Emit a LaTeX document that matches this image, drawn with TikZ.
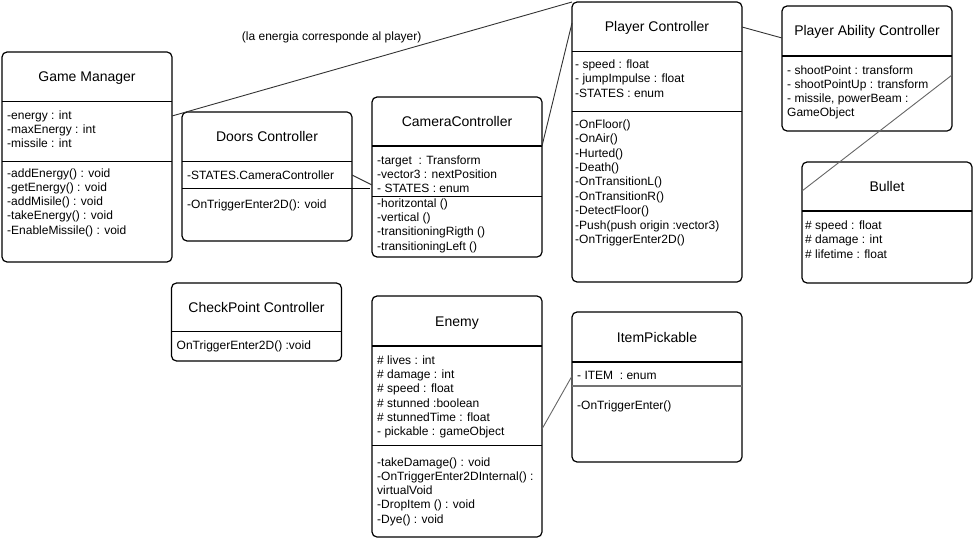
\documentclass[tikz,border=0pt]{standalone}
\usepackage{fontspec}
\setmainfont{Liberation Sans}
\usetikzlibrary{calc}
\tikzset{
  cls/.style={draw=black, line width=1.2pt, rounded corners=5pt, anchor=north west, inner sep=0pt, outer sep=0pt},
  ttl/.style={inner sep=0pt, font=\fontsize{14}{16}\selectfont, text height=10pt, text depth=0pt},
  ln/.style={inner sep=0pt, anchor=west, font=\fontsize{12}{14}\selectfont, text height=8.6pt, text depth=0pt},
  sepl/.style={line width=1.2pt},
  conn/.style={draw=black!80, line width=0.9pt},
  conng/.style={draw=black!60, line width=0.9pt},
}
\newcommand\cllines[5]{%
  \foreach \t [count=\i from 0] in {#5} \node[ln] (#1\i) at (#2,{#3+#4*\i}) {\t};}
\begin{document}
\begin{tikzpicture}[x=1pt,y=-1pt]
\useasboundingbox (0,0) rectangle (973,540);
% Game Manager
\node[cls, minimum width=170pt, minimum height=210pt] (gm) at (2,52) {};
\node[ttl] (gmT) at (87,77) {Game Manager};
\draw[sepl] (gm.west |- 0,101.7) -- (gm.east |- 0,101.7);
\draw[sepl] (gm.west |- 0,161.5) -- (gm.east |- 0,161.5);
\cllines{gmA}{7}{115}{14.2}{-energy : int, -maxEnergy : int, -missile : int}
\cllines{gmM}{7}{172.7}{14.3}{-addEnergy() : void, -getEnergy() : void, -addMisile() : void, -takeEnergy() : void, -EnableMissile() : void}
% Doors Controller
\node[cls, minimum width=170pt, minimum height=129pt] (dc) at (182,112) {};
\node[ttl] (dcT) at (267,137) {Doors Controller};
\draw[sepl] (dc.west |- 0,161.7) -- (dc.east |- 0,161.7);
\draw[sepl] (dc.west |- 0,188.3) -- (370,188.3);
\node[ln] (dcA) at (187,175) {-STATES.CameraController};
\node[ln] (dcM) at (187,204) {-OnTriggerEnter2D(): void};
% CameraController
\node[cls, minimum width=170pt, minimum height=160pt] (cc) at (372,97) {};
\node[ttl] (ccT) at (457,121.5) {CameraController};
\draw[sepl] (cc.west |- 0,146) -- (cc.east |- 0,146);
\draw[sepl] (cc.west |- 0,196.7) -- (cc.east |- 0,196.7);
\cllines{ccL}{377}{160}{14.3}{-target\ \ : Transform, -vector3 : nextPosition, - STATES : enum, -horitzontal (), -vertical (), -transitioningRigth (), -transitioningLeft ()}
% Player Controller
\node[cls, minimum width=170pt, minimum height=280pt] (pc) at (572,2) {};
\node[ttl] (pcT) at (657,27) {Player Controller};
\draw[sepl] (pc.west |- 0,51.7) -- (pc.east |- 0,51.7);
\draw[sepl] (pc.west |- 0,111.7) -- (pc.east |- 0,111.7);
\cllines{pcA}{575}{64.3}{14.3}{- speed : float, - jumpImpulse : float, -STATES : enum}
\cllines{pcM}{575}{124}{14.4}{-OnFloor(), -OnAir(), -Hurted(), -Death(), -OnTransitionL(), -OnTransitionR(), -DetectFloor(), -Push(push origin :vector3), -OnTriggerEnter2D()}
% Player Ability Controller
\node[cls, minimum width=170pt, minimum height=125pt] (pa) at (782,6) {};
\node[ttl] (paT) at (867,31) {Player Ability Controller};
\draw[sepl] (pa.west |- 0,56) -- (pa.east |- 0,56);
\cllines{paA}{787}{70.7}{14}{- shootPoint : transform, - shootPointUp : transform, {- missile, powerBeam :}, GameObject}
% Bullet
\node[cls, minimum width=170pt, minimum height=121pt] (bl) at (802,162) {};
\node[ttl] (blT) at (887,186.5) {Bullet};
\draw[sepl] (bl.west |- 0,211) -- (bl.east |- 0,211);
\cllines{blA}{805}{225}{14.5}{\# speed : float, \# damage : int, \# lifetime : float}
% CheckPoint Controller
\node[cls, minimum width=170pt, minimum height=78pt] (cp) at (171.5,283) {};
\node[ttl] (cpT) at (256.5,307) {CheckPoint Controller};
\draw[sepl] (cp.west |- 0,331.7) -- (cp.east |- 0,331.7);
\node[ln] (cpM) at (176.5,345) {OnTriggerEnter2D() :void};
% Enemy
\node[cls, minimum width=170pt, minimum height=241pt] (en) at (372,296) {};
\node[ttl] (enT) at (457,321) {Enemy};
\draw[sepl] (en.west |- 0,346) -- (en.east |- 0,346);
\draw[sepl] (en.west |- 0,445.7) -- (en.east |- 0,445.7);
\cllines{enA}{377}{360}{14.3}{\# lives : int, \# damage : int, \# speed : float, \# stunned :boolean, \# stunnedTime : float, - pickable : gameObject}
\cllines{enM}{377}{461.7}{14.3}{-takeDamage() : void, -OnTriggerEnter2DInternal() :, virtualVoid, -DropItem () : void, -Dye() : void}
% ItemPickable
\node[cls, minimum width=170pt, minimum height=150pt] (it) at (572,312) {};
\node[ttl] (itT) at (657,337) {ItemPickable};
\draw[sepl] (it.west |- 0,362) -- (it.east |- 0,362);
\draw[sepl, draw=black!55] (it.west |- 0,386) -- (it.east |- 0,386);
\node[ln] (itA) at (577,375) {- ITEM\ \ : enum};
\node[ln] (itM) at (577,405) {-OnTriggerEnter()};
% connectors
\draw[conn] ($(gm.north east)+(0,64)$) -- (pc.north west);
\node[ln, anchor=center] (lbl) at (331.7,36) {(la energia corresponde al player)};
\draw[conn] ($(dc.north east)+(0,63)$) -- ($(cc.north west)+(0,88)$);
\draw[conn] ($(cc.north east)+(0,49)$) -- ($(pc.north west)+(0,21)$);
\draw[conn] ($(pc.north east)+(0,25)$) -- ($(pa.north west)+(0,32)$);
\draw[conng] ($(pa.north east)+(0,69)$) -- ($(bl.north west)+(0,29)$);
\draw[conng] ($(en.north east)+(0,133)$) -- ($(it.north west)+(0,64)$);
\end{tikzpicture}
\end{document}
